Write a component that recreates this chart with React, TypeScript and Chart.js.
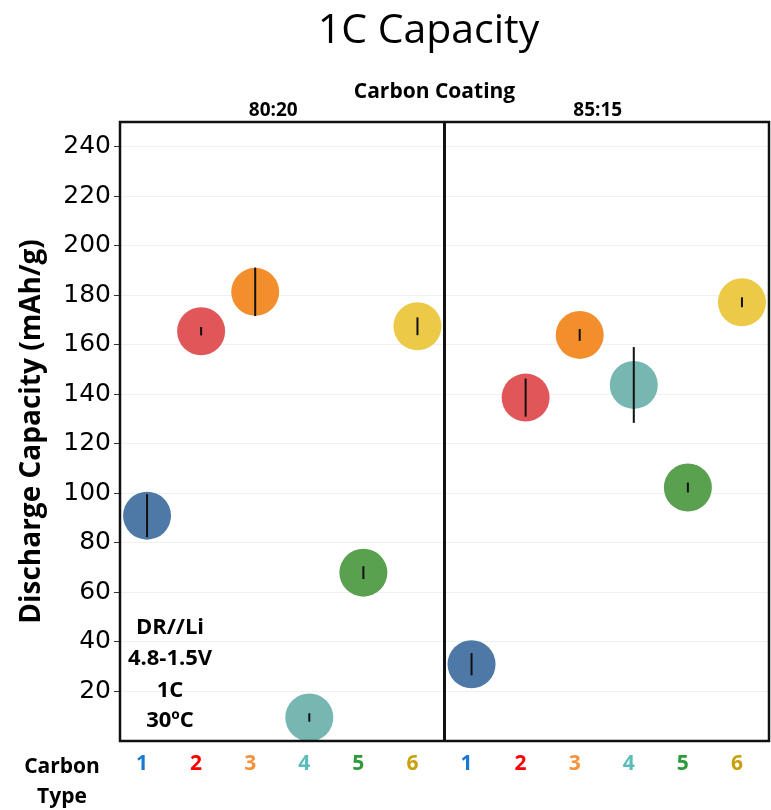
import React, { useEffect, useRef } from "react";
import { Chart, registerables } from "chart.js";

Chart.register(...registerables);

const CARBON_TYPES = ["1", "2", "3", "4", "5", "6"];
const COATINGS = ["80:20", "85:15"];
const CAP_8020 = [91, 165.5, 181.4, 9.5, 68, 167.5];
const ERR_8020 = [8.7, 1.7, 9.8, 1.7, 2.6, 3.6];
const CAP_8515 = [31, 138.7, 164, 143.8, 102.4, 177.2];
const ERR_8515 = [4.5, 7.7, 2.4, 15.3, 2, 2];
const Y_TICKS = [20, 40, 60, 80, 100, 120, 140, 160, 180, 200, 220, 240];
const POINT_COLORS = ["#4e79a7", "#e15759", "#f28e2b", "#76b7b2", "#59a14f", "#edc948"];
const LABEL_COLORS = ["#1a78d0", "#ff0000", "#f5923e", "#5bbdb9", "#2e9a3a", "#c9a00a"];
const NOTE_LINES = ["DR//Li", "4.8-1.5V", "1C", "30ºC"];

const FONT = '"Open Sans", "Noto Sans", sans-serif';
const POINT_R = 24;
// Chart.js reserves the point radius as right padding; widen the canvas by that and clip it.
const CANVAS_W = 771 + POINT_R - 2;

export default function App() {
  const ref = useRef<HTMLCanvasElement | null>(null);

  useEffect(() => {
    document.body.style.margin = "0";
    const canvas = ref.current;
    if (!canvas) return;

    const labels = [...CARBON_TYPES, ...CARBON_TYPES];
    const values = [...CAP_8020, ...CAP_8515];
    const errors = [...ERR_8020, ...ERR_8515];
    const colors = [...POINT_COLORS, ...POINT_COLORS];

    const errorBars = {
      id: "errorBars",
      afterDatasetsDraw(chart: any) {
        const { ctx, scales } = chart;
        const x = scales.x;
        const y = scales.y;
        ctx.save();
        ctx.strokeStyle = "#111";
        ctx.lineWidth = 2;
        values.forEach((v, i) => {
          const px = x.getPixelForValue(i);
          ctx.beginPath();
          ctx.moveTo(px, y.getPixelForValue(v + errors[i]));
          ctx.lineTo(px, y.getPixelForValue(v - errors[i]));
          ctx.stroke();
        });
        ctx.restore();
      },
    };

    const decorations = {
      id: "decorations",
      afterDraw(chart: any) {
        const { ctx, chartArea: a, scales } = chart;
        const x = scales.x;
        const mid = (x.getPixelForValue(5) + x.getPixelForValue(6)) / 2;
        ctx.save();
        ctx.strokeStyle = "#111";
        ctx.lineWidth = 2.5;
        ctx.strokeRect(a.left, a.top, a.right - a.left, a.bottom - a.top);
        ctx.lineWidth = 3;
        ctx.beginPath();
        ctx.moveTo(mid, a.top);
        ctx.lineTo(mid, a.bottom);
        ctx.stroke();

        ctx.fillStyle = "#000";
        ctx.textAlign = "center";
        ctx.textBaseline = "alphabetic";
        ctx.font = `41px ${FONT}`;
        ctx.fillText("1C Capacity", (a.left + a.right) / 2 - 16, 43);
        ctx.font = `bold 21px ${FONT}`;
        ctx.fillText("Carbon Coating", (a.left + a.right) / 2 - 10, 98);
        ctx.font = `bold 19px ${FONT}`;
        ctx.fillText(COATINGS[0], (a.left + mid) / 2 - 9, a.top - 6);
        ctx.fillText(COATINGS[1], (mid + a.right) / 2 - 9, a.top - 6);
        ctx.font = `bold 22px ${FONT}`;
        const noteOffsets = [107, 76, 44, 14];
        NOTE_LINES.forEach((t, i) => {
          ctx.fillText(t, a.left + 50, a.bottom - noteOffsets[i]);
        });
        ctx.font = `bold 21px ${FONT}`;
        ctx.fillText("Carbon", 62, a.bottom + 32);
        ctx.fillText("Type", 62, a.bottom + 62);
        ctx.restore();
      },
    };

    const chart = new Chart(canvas, {
      type: "line",
      data: {
        labels,
        datasets: [
          {
            data: values,
            showLine: false,
            pointRadius: POINT_R,
            pointHoverRadius: POINT_R,
            pointBackgroundColor: colors,
            pointBorderWidth: 0,
            pointBorderColor: colors,
          },
        ],
      },
      options: {
        responsive: false,
        animation: false,
        layout: { padding: { top: 122, left: 0, right: 2, bottom: 0 } },
        plugins: {
          legend: { display: false },
          tooltip: { enabled: false },
          title: { display: false },
        },
        scales: {
          x: {
            type: "category",
            offset: true,
            grid: { display: false, drawTicks: false },
            border: { display: false },
            ticks: {
              padding: 10,
              labelOffset: -5,
              font: { family: FONT, size: 21, weight: "bold" },
              color: (c: any) => LABEL_COLORS[c.index % LABEL_COLORS.length],
              autoSkip: false,
              maxRotation: 0,
            },
            afterFit(scale: any) {
              scale.height = 69;
            },
          },
          y: {
            min: 0,
            max: 250,
            afterBuildTicks(scale: any) {
              scale.ticks = Y_TICKS.map((v) => ({ value: v }));
            },
            afterFit(scale: any) {
              scale.width = 120;
            },
            grid: {
              color: "#f0f0f0",
              lineWidth: 1,
              tickColor: "#333",
              tickLength: 6,
              drawTicks: true,
            },
            border: { display: false },
            ticks: {
              padding: 3,
              color: "#000",
              font: { family: '"DejaVu Sans", sans-serif', size: 25 },
            },
            title: {
              display: true,
              text: "Discharge Capacity (mAh/g)",
              color: "#000",
              font: { family: FONT, size: 28, weight: "bold" },
              padding: { top: 15, bottom: 0 },
            },
          },
        },
      },
      plugins: [errorBars, decorations],
    });

    return () => chart.destroy();
  }, []);

  return (
    <div style={{ width: 771, height: 810, overflow: "hidden" }}>
      <canvas ref={ref} width={CANVAS_W} height={810} style={{ display: "block" }} />
    </div>
  );
}
